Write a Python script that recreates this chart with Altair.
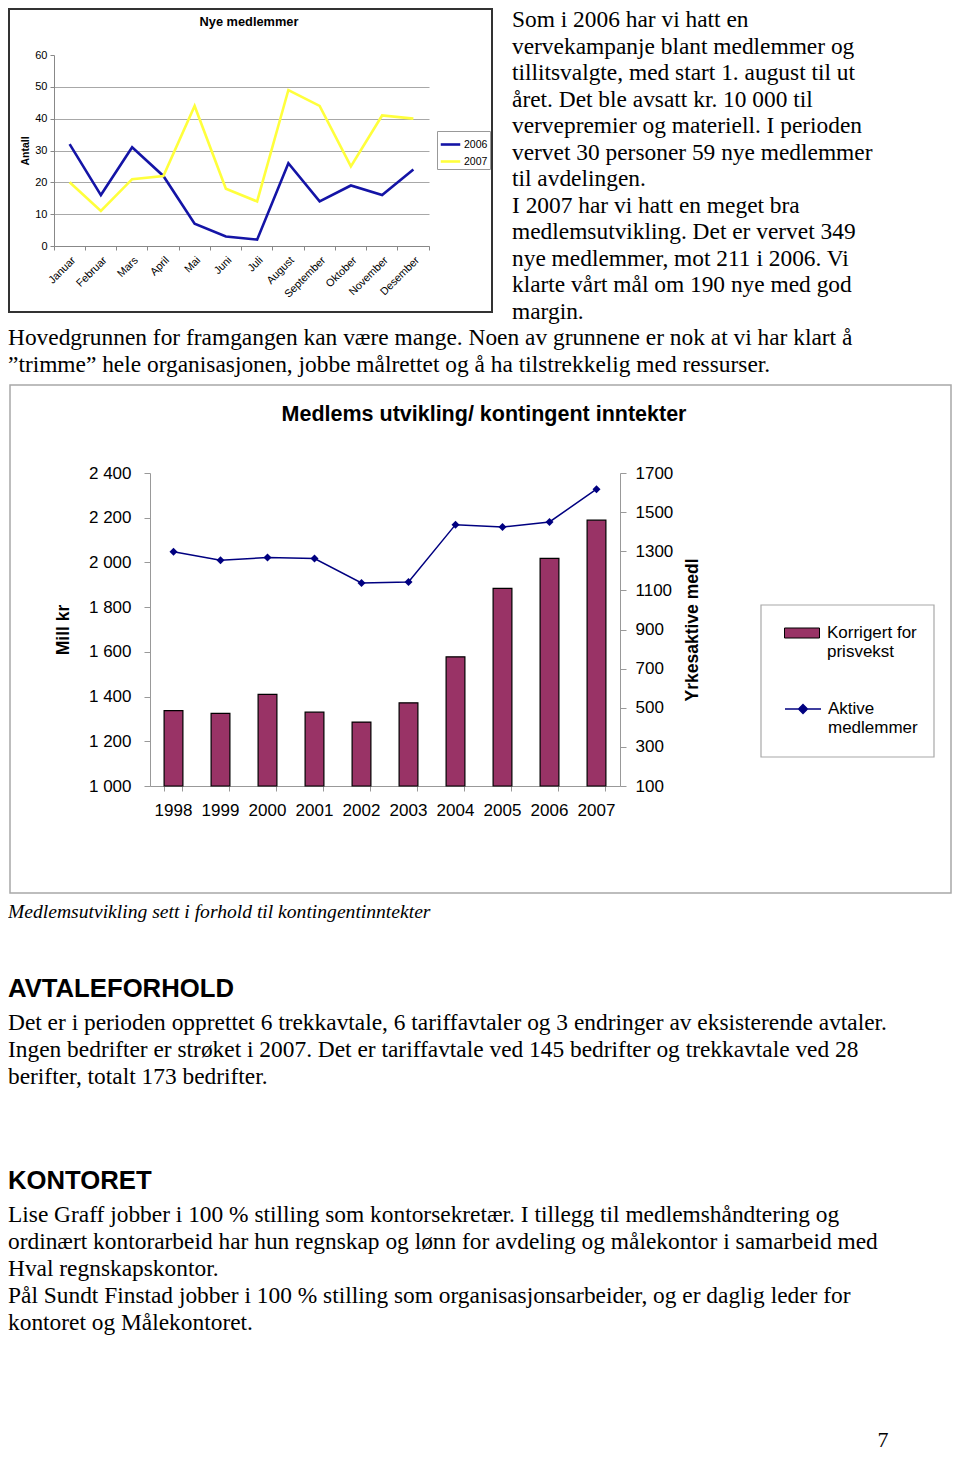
import altair as alt
import pandas as pd

W, H = 944, 1446
SANS = "Liberation Sans"
SERIF = "Liberation Serif"

# ---------------- data ----------------
months = ["Januar", "Februar", "Mars", "April", "Mai", "Juni", "Juli",
          "August", "September", "Oktober", "November", "Desember"]
new_2006 = [32, 16, 31, 22, 7, 3, 2, 26, 14, 19, 16, 24]
new_2007 = [20, 11, 21, 22, 44, 18, 14, 49, 44, 25, 41, 40]
top_years = ["2006", "2007"]
top_colors = ["#1414a6", "#ffff3c"]
top_ticks = [0, 10, 20, 30, 40, 50, 60]

years = ["1998", "1999", "2000", "2001", "2002", "2003", "2004", "2005", "2006", "2007"]
income = [1337, 1325, 1410, 1330, 1286, 1372, 1578, 1884, 2018, 2189]
members = [1297, 1254, 1268, 1263, 1138, 1143, 1436, 1424, 1450, 1617]
left_ticks = [1000, 1200, 1400, 1600, 1800, 2000, 2200, 2400]
right_ticks = [100, 300, 500, 700, 900, 1100, 1300, 1500, 1700]
bar_name = "Korrigert for prisvekst"
line_name = "Aktive medlemmer"

top_title = "Nye medlemmer"
bottom_title = "Medlems utvikling/ kontingent inntekter"

right_lines = [
    "Som i 2006 har vi hatt en",
    "vervekampanje blant medlemmer og",
    "tillitsvalgte, med start 1. august til ut",
    "året. Det ble avsatt kr. 10 000 til",
    "vervepremier og materiell. I perioden",
    "vervet 30 personer 59 nye medlemmer",
    "til avdelingen.",
    "I 2007 har vi hatt en meget bra",
    "medlemsutvikling. Det er vervet 349",
    "nye medlemmer, mot 211 i 2006. Vi",
    "klarte vårt mål om 190 nye med god",
    "margin.",
]
wide_lines = [
    "Hovedgrunnen for framgangen kan være mange. Noen av grunnene er nok at vi har klart å",
    "\u201dtrimme\u201d hele organisasjonen, jobbe målrettet og å ha tilstrekkelig med ressurser.",
]
caption = "Medlemsutvikling sett i forhold til kontingentinntekter"
heading1 = "AVTALEFORHOLD"
para1 = [
    "Det er i perioden opprettet 6 trekkavtale, 6 tariffavtaler og 3 endringer av eksisterende avtaler.",
    "Ingen bedrifter er strøket i 2007. Det er tariffavtale ved 145 bedrifter og trekkavtale ved 28",
    "berifter, totalt 173 bedrifter.",
]
heading2 = "KONTORET"
para2 = [
    "Lise Graff jobber i 100 % stilling som kontorsekretær. I tillegg til medlemshåndtering og",
    "ordinært kontorarbeid har hun regnskap og lønn for avdeling og målekontor i samarbeid med",
    "Hval regnskapskontor.",
    "Pål Sundt Finstad jobber i 100 % stilling som organisasjonsarbeider, og er daglig leder for",
    "kontoret og Målekontoret.",
]
page_no = "7"

# ---------------- tables ----------------
top_df = pd.DataFrame({
    "month": months * 2,
    "year": [top_years[0]] * len(months) + [top_years[1]] * len(months),
    "value": new_2006 + new_2007,
})
bot_df = pd.DataFrame({
    "year": years, "income": income, "members": members,
    "bar_series": [bar_name] * len(years), "line_series": [line_name] * len(years),
})
one = pd.DataFrame({"k": [0]})

BODY = 23.4


def text_block(lines, x, y, font=SERIF, size=BODY, weight="normal", style="normal",
               align="left", lh=27):
    return alt.Chart(one).mark_text(
        text=lines, font=font, fontSize=size, fontWeight=weight, fontStyle=style,
        align=align, baseline="alphabetic", lineHeight=lh, color="black"
    ).encode(x=alt.value(x), y=alt.value(y))


def box(x1, y1, x2, y2, stroke, sw, fill_op=0):
    return alt.Chart(one).mark_rect(fill="white", fillOpacity=fill_op, stroke=stroke,
                                    strokeWidth=sw).encode(
        x=alt.value(x1), x2=alt.value(x2), y=alt.value(y1), y2=alt.value(y2))


# ---------------- top chart ----------------
top_lines = alt.Chart(top_df).mark_line(strokeWidth=2.6).encode(
    x=alt.X("month:N", sort=months, bandPosition=0.5,
            scale=alt.Scale(type="band", range=[46, 421], paddingInner=0, paddingOuter=0),
            axis=alt.Axis(title=None, orient="bottom", offset=238 - H, labelAngle=-45,
                          labelFont=SANS, labelFontSize=10.8, labelColor="black",
                          labelPadding=4, tickSize=4, bandPosition=1, tickExtra=True,
                          domainColor="#888", tickColor="#888", grid=False,
                          labelOverlap=False)),
    y=alt.Y("value:Q",
            scale=alt.Scale(domain=[0, 60], range=[238, 47], nice=False, zero=True),
            axis=alt.Axis(title="Antall", orient="left", offset=-46, values=top_ticks,
                          labelFont=SANS, labelFontSize=11, labelColor="black",
                          labelPadding=3, tickSize=4, domainColor="#888", tickColor="#888",
                          grid=True, gridColor="#a8a8a8", gridWidth=1,
                          gridOpacity={"condition": {"test": "datum.value >= 60", "value": 0}, "value": 1},
                          titleFont=SANS, titleFontSize=10.5, titleFontWeight="bold",
                          titleColor="black", titlePadding=4)),
    color=alt.Color("year:N", scale=alt.Scale(domain=top_years, range=top_colors),
                    legend=alt.Legend(orient="none", legendX=429, legendY=123, title=None,
                                      direction="vertical", strokeColor="#999",
                                      fillColor="white", padding=2, labelFont=SANS,
                                      labelFontSize=10.5, labelColor="black",
                                      symbolType="stroke", symbolSize=380,
                                      symbolStrokeWidth=2.6, rowPadding=-3, labelOffset=2)),
)

# ---------------- bottom chart ----------------
x_bot = alt.X("year:N", sort=years, bandPosition=0.5,
              scale=alt.Scale(type="band", range=[142, 612], paddingInner=0.6, paddingOuter=0.3),
              axis=alt.Axis(title=None, orient="bottom", offset=778 - H,
                            labelFont=SANS, labelFontSize=17, labelColor="black",
                            labelAngle=0, labelPadding=11, tickSize=5, bandPosition=1,
                            tickExtra=True, domainColor="#999", tickColor="#999", grid=False))

bars = alt.Chart(bot_df).mark_bar(stroke="black", strokeWidth=1.2).encode(
    x=x_bot,
    y=alt.Y("income:Q",
            scale=alt.Scale(domain=[1000, 2400], range=[778, 465], nice=False, zero=False),
            axis=alt.Axis(title="Mill kr", orient="left", offset=-142, values=left_ticks,
                          labelExpr="replace(format(datum.value, ','), ',', ' ')",
                          labelFont=SANS, labelFontSize=17, labelColor="black",
                          labelPadding=13, tickSize=6, domainColor="#999", tickColor="#999",
                          grid=False, titleFont=SANS, titleFontSize=17.5,
                          titleFontWeight="bold", titleColor="black", titlePadding=16)),
    y2=alt.datum(1000),
    fill=alt.Fill("bar_series:N", scale=alt.Scale(domain=[bar_name], range=["#993366"]),
                  legend=alt.Legend(orient="none", legendX=776, legendY=607, title=None,
                                    symbolType="M-1,-0.2857H1V0.2857H-1Z", symbolSize=1225,
                                    symbolStrokeColor="black", symbolStrokeWidth=1,
                                    labelExpr="datum.label == 'Korrigert for prisvekst' ? ['Korrigert for', 'prisvekst'] : datum.label",
                                    labelFont=SANS, labelFontSize=17, labelColor="black",
                                    labelOffset=7, padding=0, labelLimit=300)),
)

y_members = alt.Y("members:Q",
                  scale=alt.Scale(domain=[100, 1700], range=[778, 465], nice=False, zero=False),
                  axis=alt.Axis(title="Yrkesaktive medl", orient="right", offset=612 - W,
                                values=right_ticks, format="d", labelFont=SANS, labelFontSize=17,
                                labelColor="black", labelPadding=9, tickSize=6,
                                domainColor="#999", tickColor="#999", grid=False,
                                titleFont=SANS, titleFontSize=17.5, titleFontWeight="bold",
                                titleColor="black", titleAngle=270, titleBaseline="top",
                                titlePadding=11))

member_line = alt.Chart(bot_df).mark_line(color="#000080", strokeWidth=1.5).encode(
    x=x_bot, y=y_members)
member_pts = alt.Chart(bot_df).mark_point(filled=True, shape="diamond", size=64, opacity=1).encode(
    x=x_bot, y=y_members,
    color=alt.Color("line_series:N", scale=alt.Scale(domain=[line_name], range=["#000080"]),
                    legend=alt.Legend(orient="none", legendX=776, legendY=682, title=None,
                                      symbolType="M-1,0H1M0,-0.25L0.25,0L0,0.25L-0.25,0Z",
                                      symbolSize=1296, symbolFillColor="#000080",
                                      symbolStrokeColor="#000080", symbolStrokeWidth=1.3,
                                      labelExpr="split(datum.label, ' ')",
                                      labelFont=SANS, labelFontSize=17, labelColor="black",
                                      labelOffset=6, padding=0, labelLimit=300)),
)
members_layer = alt.layer(member_line, member_pts)
bottom = alt.layer(bars, members_layer).resolve_scale(y="independent")

# ---------------- page ----------------
page = alt.layer(
    box(1, 1, 484, 304, "#333333", 2),
    box(2, 377, 943, 885, "#a8a8a8", 1.5),
    box(753, 597, 926, 749, "#a8a8a8", 1.2, 1),
    text_block(top_title, 241, 18, font=SANS, size=12.8, weight="bold", align="center"),
    top_lines,
    text_block(bottom_title, 476, 413, font=SANS, size=21.5, weight="bold", align="center"),
    bottom,
    text_block(right_lines, 504, 19, lh=26.5),
    text_block(wide_lines, 0, 337),
    text_block(caption, 0, 910, size=19.6, style="italic"),
    text_block(heading1, 0, 989, font=SANS, size=25.7, weight="bold"),
    text_block(para1, 0, 1021.5),
    text_block(heading2, 0, 1181, font=SANS, size=25.7, weight="bold"),
    text_block(para2, 0, 1213.5),
    text_block(page_no, 875, 1439, size=22, align="center"),
).resolve_scale(
    x="independent", y="independent", color="independent", fill="independent"
).resolve_axis(
    x="independent", y="independent"
).resolve_legend(
    color="independent", fill="independent"
).properties(
    width=W, height=H, padding=0, autosize=alt.AutoSizeParams(type="none")
).configure_view(strokeWidth=0)

page.save("out.html", embed_options={"renderer": "svg", "actions": False})
